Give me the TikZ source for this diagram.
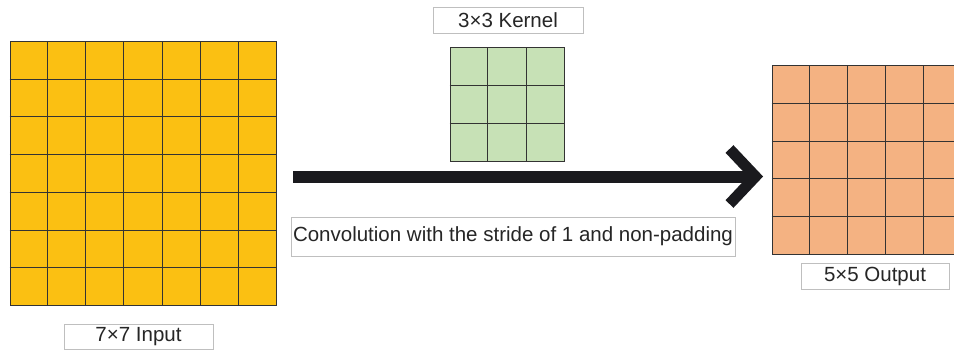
\documentclass[tikz,border=0pt]{standalone}
\usepackage{fontspec}
\setmainfont{Liberation Sans}
\usetikzlibrary{calc}
\definecolor{inputc}{RGB}{251,192,18}
\definecolor{kernelc}{RGB}{199,225,182}
\definecolor{outputc}{RGB}{244,178,130}
\definecolor{arrowc}{RGB}{26,26,30}
\begin{document}
\begin{tikzpicture}[x=1pt,y=-1pt,
  lbl/.style={draw=black!25, line width=0.8pt, fill=white, inner sep=0pt,
    font=\fontsize{20.5}{24}\selectfont, text=black!85},
  gridbox/.style={draw=black!80, line width=1pt, inner sep=0pt},
  gline/.style={draw=black!80, line width=0.9pt}]
\clip (0,0) rectangle (954,353);
\fill[white] (0,0) rectangle (954,353);

% input grid 7x7
\node[gridbox, fill=inputc, minimum width=266pt, minimum height=263pt] (in) at (143,173.5) {};
\foreach \i in {1,...,6} {
  \draw[gline] ($(in.north west)!\i/7!(in.north east)$) -- ($(in.south west)!\i/7!(in.south east)$);
  \draw[gline] ($(in.north west)!\i/7!(in.south west)$) -- ($(in.north east)!\i/7!(in.south east)$);
}

% kernel grid 3x3
\node[gridbox, fill=kernelc, minimum width=114pt, minimum height=113pt] (ker) at (507,104.5) {};
\foreach \i in {1,2} {
  \draw[gline] ($(ker.north west)!\i/3!(ker.north east)$) -- ($(ker.south west)!\i/3!(ker.south east)$);
  \draw[gline] ($(ker.north west)!\i/3!(ker.south west)$) -- ($(ker.north east)!\i/3!(ker.south east)$);
}

% output grid 5x5
\node[gridbox, fill=outputc, minimum width=188.5pt, minimum height=188pt] (out) at (866.25,160) {};
\foreach \i in {1,...,4} {
  \draw[gline] ($(out.north west)!\i/5!(out.north east)$) -- ($(out.south west)!\i/5!(out.south east)$);
  \draw[gline] ($(out.north west)!\i/5!(out.south west)$) -- ($(out.north east)!\i/5!(out.south east)$);
}

% labels
\node[lbl, minimum width=149pt, minimum height=25pt] (inl) at (138.5,336.5) {7×7 Input};
\node[lbl, minimum width=150pt, minimum height=26pt] (kerl) at (508,20) {3×3 Kernel};
\node[lbl, minimum width=148pt, minimum height=26pt] (outl) at (875,276) {5×5 Output};
\node[lbl, minimum width=444pt, minimum height=39pt] (conv) at (513,236.5) {Convolution with the stride of 1 and non-padding};

% arrow
\coordinate (as) at (293,176.5);
\coordinate (ae) at (755.5,176.5);
\coordinate (h1) at ($(ae)+(-26,-27.5)$);
\coordinate (h2) at ($(ae)+(-26,27.5)$);
\draw[arrowc, line width=12pt] (as) -- (ae);
\draw[arrowc, line width=11pt, line join=miter] (h1) -- (ae) -- (h2);
\end{tikzpicture}
\end{document}
